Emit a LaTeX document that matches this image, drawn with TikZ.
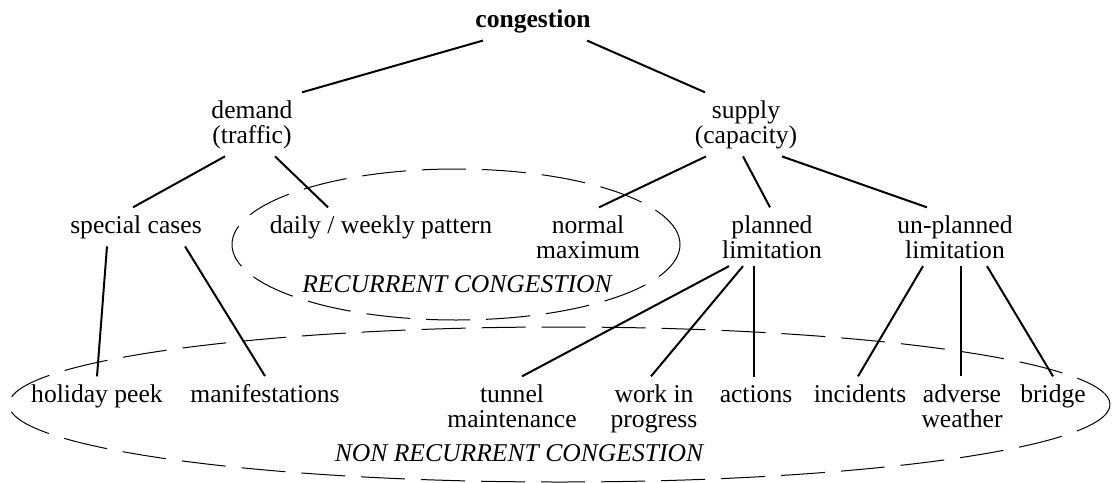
\documentclass[tikz,border=0pt]{standalone}
\usepackage{fontspec}
\setmainfont{Liberation Serif}

\tikzset{
  lbl/.style={font=\fontsize{12.8}{12.5}\selectfont,align=center,inner sep=3.75pt,anchor=base},
  head/.style={lbl,font=\fontsize{12.8}{12.5}\selectfont\bfseries},
  zonelbl/.style={lbl,font=\fontsize{12.8}{12.5}\selectfont\itshape},
  link/.style={line width=1pt},
  zone/.style={line width=.5pt,dash pattern=on 22pt off 8pt}
}

\begin{document}
\begin{tikzpicture}[x=.5pt,y=-.5pt]
  \useasboundingbox (0,0) rectangle (1112,482);
  % the two congestion areas
  \draw[zone] (456,244.5) ellipse [x radius=112pt,y radius=37.75pt];
  \draw[zone] (559.5,404.5) ellipse [x radius=275.25pt,y radius=38.75pt];
  \node[zonelbl] (rec) at (457,292) {RECURRENT CONGESTION};
  \node[zonelbl] (nonrec) at (519,461) {NON RECURRENT CONGESTION};

  % base of a two-line node = baseline of its last line
  \node[head] (cong) at (533,27) {congestion};
  \node[lbl] (dem) at (252,143) {demand\\(traffic)};
  \node[lbl] (sup) at (746,143) {supply\\(capacity)};

  \node[lbl] (spec) at (136,233) {special cases};
  \node[lbl] (daily) at (381,233) {daily / weekly pattern};
  \node[lbl] (norm) at (588,258) {normal\\maximum};
  \node[lbl] (plan) at (772,258) {planned\\limitation};
  \node[lbl] (unpl) at (955,258) {un-planned\\limitation};

  \node[lbl] (hol) at (97,402) {holiday peek};
  \node[lbl] (manif) at (265,402) {manifestations};
  \node[lbl] (tun) at (512,427) {tunnel\\maintenance};
  \node[lbl] (work) at (654,427) {work in\\progress};
  \node[lbl] (act) at (756,402) {actions};
  \node[lbl] (inc) at (860,402) {incidents};
  \node[lbl] (adv) at (962,427) {adverse\\weather};
  \node[lbl] (brid) at (1053,402) {bridge};

  % tree
  \draw[link] ([xshift=-25pt]cong.south) -- ([xshift=25pt]dem.north);
  \draw[link] ([xshift=27pt]cong.south) -- ([xshift=-20.5pt]sup.north);
  \draw[link] ([xshift=-13.5pt]dem.south) -- ([xshift=-1.5pt]spec.north);
  \draw[link] ([xshift=11.5pt]dem.south) -- ([xshift=-26.5pt]daily.north);
  \draw[link] ([xshift=-20pt]sup.south) -- ([xshift=5.5pt]norm.north);
  \draw[link] ([xshift=-1.5pt]sup.south) -- ([xshift=-1pt]plan.north);
  \draw[link] ([xshift=18pt]sup.south) -- ([xshift=-14pt]unpl.north);
  \draw[link] ([xshift=-14.5pt]spec.south) -- (hol.north);
  \draw[link] ([xshift=24.5pt]spec.south) -- (manif.north);
  \draw[link] ([xshift=-21.5pt]plan.south) -- ([xshift=5pt]tun.north);
  \draw[link] ([xshift=-14.5pt]plan.south) -- ([xshift=-1.5pt]work.north);
  \draw[link] ([xshift=-9pt]plan.south) -- ([xshift=-1pt]act.north);
  \draw[link] ([xshift=-16pt]unpl.south) -- ([xshift=-1pt]inc.north);
  \draw[link] ([xshift=3pt]unpl.south) -- ([xshift=-.5pt]adv.north);
  \draw[link] ([xshift=16pt]unpl.south) -- (brid.north);
\end{tikzpicture}
\end{document}
